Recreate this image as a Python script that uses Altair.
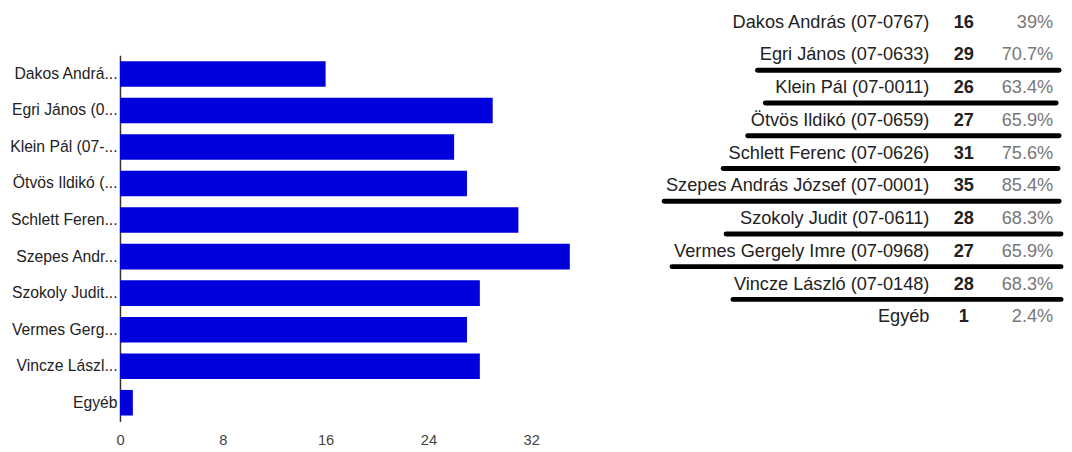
import altair as alt
import pandas as pd

# ---- data ----
bar_labels = ["Dakos Andrá...", "Egri János (0...", "Klein Pál (07-...", "Ötvös Ildikó (...",
              "Schlett Feren...", "Szepes Andr...", "Szokoly Judit...", "Vermes Gerg...",
              "Vincze Lászl...", "Egyéb"]
full_names = ["Dakos András (07-0767)", "Egri János (07-0633)", "Klein Pál (07-0011)",
              "Ötvös Ildikó (07-0659)", "Schlett Ferenc (07-0626)", "Szepes András József (07-0001)",
              "Szokoly Judit (07-0611)", "Vermes Gergely Imre (07-0968)", "Vincze László (07-0148)",
              "Egyéb"]
counts = [16, 29, 26, 27, 31, 35, 28, 27, 28, 1]
percents = ["39%", "70.7%", "63.4%", "65.9%", "75.6%", "85.4%", "68.3%", "65.9%", "68.3%", "2.4%"]
x_ticks = [0, 8, 16, 24, 32]

# hand-drawn underlines in the table (rows and where each stroke starts / ends)
underlined = full_names[1:9]
underline_start = [157, 165, 147, 122, 62, 125, 70, 132]
underline_end = [464, 461, 464, 463, 464, 466, 466, 466]

FONT = "Liberation Sans"

bar_df = pd.DataFrame({"label": bar_labels, "count": counts})
bars = alt.Chart(bar_df).mark_bar(color="#0000DD").encode(
    x=alt.X("count:Q",
            scale=alt.Scale(domain=[0, 36], nice=False),
            axis=alt.Axis(values=x_ticks, title=None, domain=False, ticks=False, grid=False,
                          labelColor="#444444", labelFontSize=15, labelFont=FONT,
                          labelPadding=11, labelFlush=False)),
    y=alt.Y("label:N", sort=bar_labels,
            scale=alt.Scale(paddingInner=0.3, paddingOuter=0.165),
            axis=alt.Axis(title=None, ticks=False, domainColor="#333333", domainWidth=1.5,
                          labelColor="#222222", labelFontSize=16, labelFont=FONT,
                          labelPadding=3, labelLimit=250)),
).properties(width=471, height=373,
             title=alt.TitleParams(" ", fontSize=10, offset=34))

tbl_df = pd.DataFrame({"name": full_names, "count": counts, "pct": percents})
y_tbl = alt.Y("name:N", sort=full_names,
              scale=alt.Scale(type="point", padding=0, domain=full_names, range=[-34, 266]),
              axis=None)

names_t = alt.Chart(tbl_df).mark_text(align="right", baseline="middle", fontSize=18.5,
                                      font=FONT, color="#222222").encode(
    x=alt.value(332), y=y_tbl, text="name:N")
counts_t = alt.Chart(tbl_df).mark_text(align="center", baseline="middle", fontSize=18.5,
                                       font=FONT, fontWeight="bold", color="#222222").encode(
    x=alt.value(367), y=y_tbl, text="count:Q")
pct_t = alt.Chart(tbl_df).mark_text(align="right", baseline="middle", fontSize=18.5,
                                    font=FONT, color="#777777").encode(
    x=alt.value(458), y=y_tbl, text="pct:N")

ul_df = pd.DataFrame({"name": underlined, "start": underline_start, "end": underline_end})
rules = alt.Chart(ul_df).mark_rule(color="black", strokeWidth=5, strokeCap="round",
                                   yOffset=16).encode(
    x=alt.X("start:Q", scale=alt.Scale(domain=[0, 464], nice=False), axis=None),
    x2="end:Q",
    y=y_tbl)

table = alt.layer(names_t, counts_t, pct_t, rules).properties(width=464, height=373)

chart = alt.hconcat(bars, table, spacing=21).properties(
    padding={"left": 1, "top": 0, "right": 0, "bottom": 0}
).configure_view(stroke=None)

chart.save("out.html", embed_options={"renderer": "svg", "actions": False})
